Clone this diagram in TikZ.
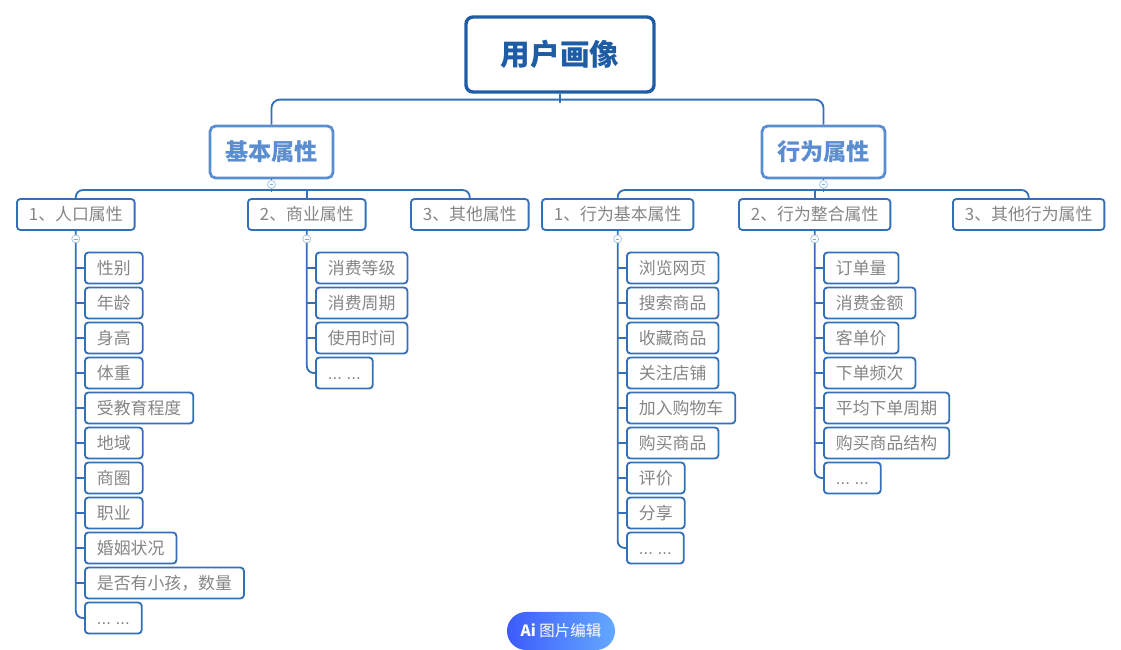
\documentclass[tikz,border=0pt]{standalone}
\usepackage{fontspec}
\setmainfont{Noto Sans CJK SC}
\newfontfamily\latinfont{Liberation Sans}
\usepackage{tikz}
\usetikzlibrary{arrows.meta}
\usepackage{xcolor}
\definecolor{rootblue}{HTML}{1F5CA6}
\definecolor{midblue}{HTML}{5B8ED0}
\definecolor{lineblue}{HTML}{3470B8}
\definecolor{leafgray}{HTML}{858585}
\definecolor{pillA}{HTML}{3D5BFD}
\definecolor{pillB}{HTML}{64A9FF}
\newcommand{\moredots}{\vphantom{性}{\latinfont ...\ ...}}

\begin{document}
\begin{tikzpicture}[x=0.025cm, y=-0.025cm,
    link/.style={draw=lineblue, line width=1.3pt},
    rootbox/.style={draw=rootblue, line width=2.4pt, rounded corners=5pt, minimum width=4.7cm, minimum height=1.875cm, text=rootblue, font=\fontsize{21}{25}\selectfont\bfseries},
    topic/.style={draw=midblue, line width=2pt, rounded corners=4pt, minimum width=3.075cm, minimum height=1.3cm, text=midblue, font=\fontsize{16.5}{20}\selectfont\bfseries},
    leaf/.style={draw=lineblue, line width=1.3pt, rounded corners=2.5pt, anchor=west, minimum height=0.775cm, inner xsep=0.3cm, text=leafgray, font=\fontsize{12}{14}\selectfont},
    fold/.style={circle, draw=lineblue!45, fill=white, line width=0.5pt, minimum size=0.2cm, inner sep=0pt,
        path picture={\draw[lineblue!60, line width=0.4pt] ([xshift=-1.3pt]path picture bounding box.center) -- ([xshift=1.3pt]path picture bounding box.center);}},
    pill/.style={rounded corners=0.475cm, minimum width=2.7cm, minimum height=0.95cm, left color=pillA, right color=pillB, text=white, font=\fontsize{11}{13}\selectfont}]
        \useasboundingbox (0,0) rectangle (1121,650);
        % top levels
        \node [rootbox] (root) at (560,54.5) {用户画像};
        \node [topic] (base) at (271.5,152) {基本属性};
        \node [topic] (act) at (823.5,152) {行为属性};
        \node [leaf] (pop) at (16,214.5) {1、人口属性};
        \node [leaf] (biz) at (247,214.5) {2、商业属性};
        \node [leaf] (oth) at (410,214.5) {3、其他属性};
        \node [leaf] (abs) at (541,214.5) {1、行为基本属性};
        \node [leaf] (aint) at (738,214.5) {2、行为整合属性};
        \node [leaf] (aoth) at (952,214.5) {3、其他行为属性};
        % leaves
        \foreach \t [count=\i] in {性别,年龄,身高,体重,受教育程度,地域,商圈,职业,婚姻状况,是否有小孩，数量}
            \node [leaf] (p\i) at (84,233+35*\i) {\t};
        \node [leaf] (p11) at (84,618) {\moredots};
        \foreach \t [count=\i] in {消费等级,消费周期,使用时间}
            \node [leaf] (b\i) at (315,233+35*\i) {\t};
        \node [leaf] (b4) at (315,373) {\moredots};
        \foreach \t [count=\i] in {浏览网页,搜索商品,收藏商品,关注店铺,加入购物车,购买商品,评价,分享}
            \node [leaf] (a\i) at (626,233+35*\i) {\t};
        \node [leaf] (a9) at (626,548) {\moredots};
        \foreach \t [count=\i] in {订单量,消费金额,客单价,下单频次,平均下单周期,购买商品结构}
            \node [leaf] (g\i) at (823,233+35*\i) {\t};
        \node [leaf] (g7) at (823,478) {\moredots};
        % connectors
        \draw [link] (root.south) -- ++(0,9);
        \draw [link, rounded corners=6pt] (base.north) -- ++(0,-25) -| (act.north);
        \draw [link] (base.south) -- ++(0,13);
        \draw [link, rounded corners=5pt] (pop.north) -- ++(0,-8) -| (oth.north);
        \draw [link] (biz.north) -- ++(0,-8);
        \draw [link] (act.south) -- ++(0,13);
        \draw [link, rounded corners=5pt] (abs.north) -- ++(0,-8) -| (aoth.north);
        \draw [link] (aint.north) -- ++(0,-8);
        \draw [link, rounded corners=5pt] (pop.south) |- (p11.west);
        \foreach \i in {1,...,10} \draw [link] (p\i.west) -- ++(-9,0);
        \draw [link, rounded corners=5pt] (biz.south) |- (b4.west);
        \foreach \i in {1,...,3} \draw [link] (b\i.west) -- ++(-9,0);
        \draw [link, rounded corners=5pt] (abs.south) |- (a9.west);
        \foreach \i in {1,...,8} \draw [link] (a\i.west) -- ++(-9,0);
        \draw [link, rounded corners=5pt] (aint.south) |- (g7.west);
        \foreach \i in {1,...,6} \draw [link] (g\i.west) -- ++(-9,0);
        % fold markers
        \path (base.south) ++(0,5) node [fold] (fbase) {};
        \path (act.south) ++(0,5) node [fold] (fact) {};
        \path (pop.south) ++(0,8) node [fold] (fpop) {};
        \path (biz.south) ++(0,8) node [fold] (fbiz) {};
        \path (abs.south) ++(0,8) node [fold] (fabs) {};
        \path (aint.south) ++(0,8) node [fold] (faint) {};
        \node [pill] (ai) at (561,631) {\textbf{Ai}\ 图片编辑};
    \end{tikzpicture}
\end{document}
